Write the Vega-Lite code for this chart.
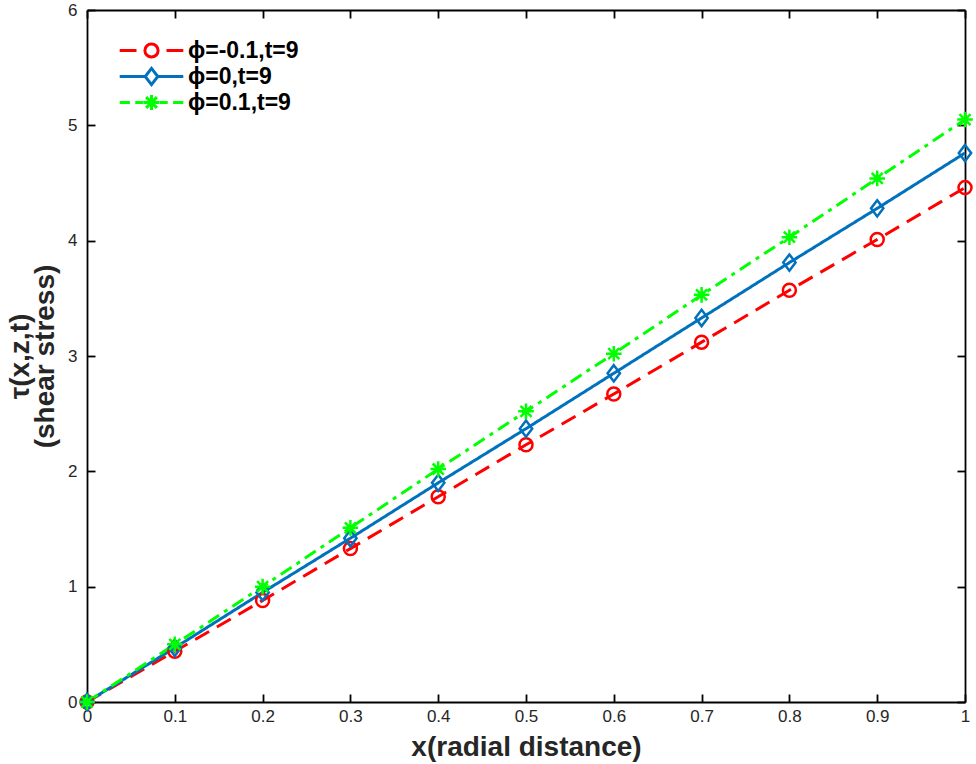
{
  "$schema": "https://vega.github.io/schema/vega-lite/v6.json",
  "width": 878,
  "height": 692,
  "autosize": "none",
  "padding": {"left": 87, "top": 10, "right": 11, "bottom": 62},
  "background": "white",
  "config": {
    "font": "Liberation Sans",
    "view": {"stroke": "transparent"},
    "axis": {"grid": false, "domain": true, "domainColor": "#000000", "domainWidth": 1.8, "ticks": true, "tickColor": "#000000", "tickWidth": 1.8, "tickSize": -8,
             "labelFlush": false,
             "labelFont": "Liberation Sans", "labelFontSize": 17, "labelColor": "#262626",
             "titleFont": "Liberation Sans", "titleFontSize": 28, "titleFontWeight": "bold", "titleColor": "#262626"}
  },
  "data": {"values": [
    {"s": "ϕ=-0.1,t=9", "x": 0, "y": 0},
    {"s": "ϕ=-0.1,t=9", "x": 0.1, "y": 0.44},
    {"s": "ϕ=-0.1,t=9", "x": 0.2, "y": 0.88},
    {"s": "ϕ=-0.1,t=9", "x": 0.3, "y": 1.33},
    {"s": "ϕ=-0.1,t=9", "x": 0.4, "y": 1.78},
    {"s": "ϕ=-0.1,t=9", "x": 0.5, "y": 2.23},
    {"s": "ϕ=-0.1,t=9", "x": 0.6, "y": 2.67},
    {"s": "ϕ=-0.1,t=9", "x": 0.7, "y": 3.12},
    {"s": "ϕ=-0.1,t=9", "x": 0.8, "y": 3.57},
    {"s": "ϕ=-0.1,t=9", "x": 0.9, "y": 4.01},
    {"s": "ϕ=-0.1,t=9", "x": 1, "y": 4.46},
    {"s": "ϕ=0,t=9", "x": 0, "y": 0},
    {"s": "ϕ=0,t=9", "x": 0.1, "y": 0.47},
    {"s": "ϕ=0,t=9", "x": 0.2, "y": 0.95},
    {"s": "ϕ=0,t=9", "x": 0.3, "y": 1.42},
    {"s": "ϕ=0,t=9", "x": 0.4, "y": 1.9},
    {"s": "ϕ=0,t=9", "x": 0.5, "y": 2.37},
    {"s": "ϕ=0,t=9", "x": 0.6, "y": 2.85},
    {"s": "ϕ=0,t=9", "x": 0.7, "y": 3.33},
    {"s": "ϕ=0,t=9", "x": 0.8, "y": 3.81},
    {"s": "ϕ=0,t=9", "x": 0.9, "y": 4.28},
    {"s": "ϕ=0,t=9", "x": 1, "y": 4.76},
    {"s": "ϕ=0.1,t=9", "x": 0, "y": 0},
    {"s": "ϕ=0.1,t=9", "x": 0.1, "y": 0.5},
    {"s": "ϕ=0.1,t=9", "x": 0.2, "y": 1.0},
    {"s": "ϕ=0.1,t=9", "x": 0.3, "y": 1.51},
    {"s": "ϕ=0.1,t=9", "x": 0.4, "y": 2.02},
    {"s": "ϕ=0.1,t=9", "x": 0.5, "y": 2.52},
    {"s": "ϕ=0.1,t=9", "x": 0.6, "y": 3.02},
    {"s": "ϕ=0.1,t=9", "x": 0.7, "y": 3.53},
    {"s": "ϕ=0.1,t=9", "x": 0.8, "y": 4.03},
    {"s": "ϕ=0.1,t=9", "x": 0.9, "y": 4.54},
    {"s": "ϕ=0.1,t=9", "x": 1, "y": 5.05}
  ]},
  "layer": [
    {
      "mark": {"type": "line", "strokeWidth": 3},
      "encoding": {
        "x": {"field": "x", "type": "quantitative", "scale": {"domain": [0, 1], "nice": false},
              "axis": {"orient": "bottom", "values": [0, 0.1, 0.2, 0.3, 0.4, 0.5, 0.6, 0.7, 0.8, 0.9, 1], "format": "~g",
                       "labelPadding": 14, "title": "x(radial distance)", "titlePadding": 9}},
        "y": {"field": "y", "type": "quantitative", "scale": {"domain": [0, 6], "nice": false},
              "axis": {"orient": "left", "values": [0, 1, 2, 3, 4, 5, 6], "format": "d",
                       "labelPadding": 18, "title": ["τ(x,z,t)", "(shear stress)"], "titleLineHeight": 25, "titlePadding": 8}},
        "color": {"field": "s", "type": "nominal",
                  "scale": {"domain": ["ϕ=-0.1,t=9", "ϕ=0,t=9", "ϕ=0.1,t=9"], "range": ["#FF0000", "#0072BD", "#00FF00"]},
                  "legend": {"title": null, "orient": "none", "legendX": 53, "legendY": 29, "padding": 0,
                             "labelFont": "Liberation Sans", "labelFontSize": 23, "labelFontWeight": "bold", "labelColor": "#000000",
                             "symbolSize": 144, "symbolStrokeWidth": 3, "labelOffset": 25, "rowPadding": -2,
                             "encode": {"symbols": {"update": {
                               "shape": {"signal": "datum.index === 0 ? 'M-5.3,0H-2.5M-1.1,0A1.1,1.1 0 1 0 1.1,0A1.1,1.1 0 1 0 -1.1,0M2.5,0H5.3' : datum.index === 1 ? 'M-5.3,0H-1.1M1.1,0H5.3M0,-1.35L1.05,0L0,1.35L-1.05,0Z' : 'M-5.3,0H-3.6M-2.7,0H-1.3M1.3,0H2.7M3.6,0H5.3M-1.25,0H1.25M0,-1.25V1.25M-0.9,-0.9L0.9,0.9M-0.9,0.9L0.9,-0.9'"},
                               "fill": {"value": "transparent"},
                               "strokeWidth": {"value": 3},
                               "opacity": {"value": 1}
                             }}}}},
        "strokeDash": {"field": "s", "type": "nominal",
                       "scale": {"range": [[16, 9], [1, 0], [13, 6, 4, 6]]},
                       "legend": null}
      }
    },
    {
      "mark": {"type": "point", "filled": false, "strokeWidth": 2.5, "size": 169, "opacity": 1},
      "encoding": {
        "x": {"field": "x", "type": "quantitative",
              "axis": {"orient": "top", "values": [0, 0.1, 0.2, 0.3, 0.4, 0.5, 0.6, 0.7, 0.8, 0.9, 1], "labels": false, "title": null}},
        "y": {"field": "y", "type": "quantitative",
              "axis": {"orient": "right", "values": [0, 1, 2, 3, 4, 5, 6], "labels": false, "title": null}},
        "color": {"field": "s", "type": "nominal"},
        "shape": {"field": "s", "type": "nominal",
                  "scale": {"range": ["M1,0A1,1 0 1 1 -1,0A1,1 0 1 1 1,0", "M0,-1.25L0.95,0L0,1.25L-0.95,0Z", "M-1.2,0H1.2M0,-1.2V1.2M-0.85,-0.85L0.85,0.85M-0.85,0.85L0.85,-0.85"]},
                  "legend": null}
      }
    }
  ],
  "resolve": {"axis": {"x": "independent", "y": "independent"}}
}
